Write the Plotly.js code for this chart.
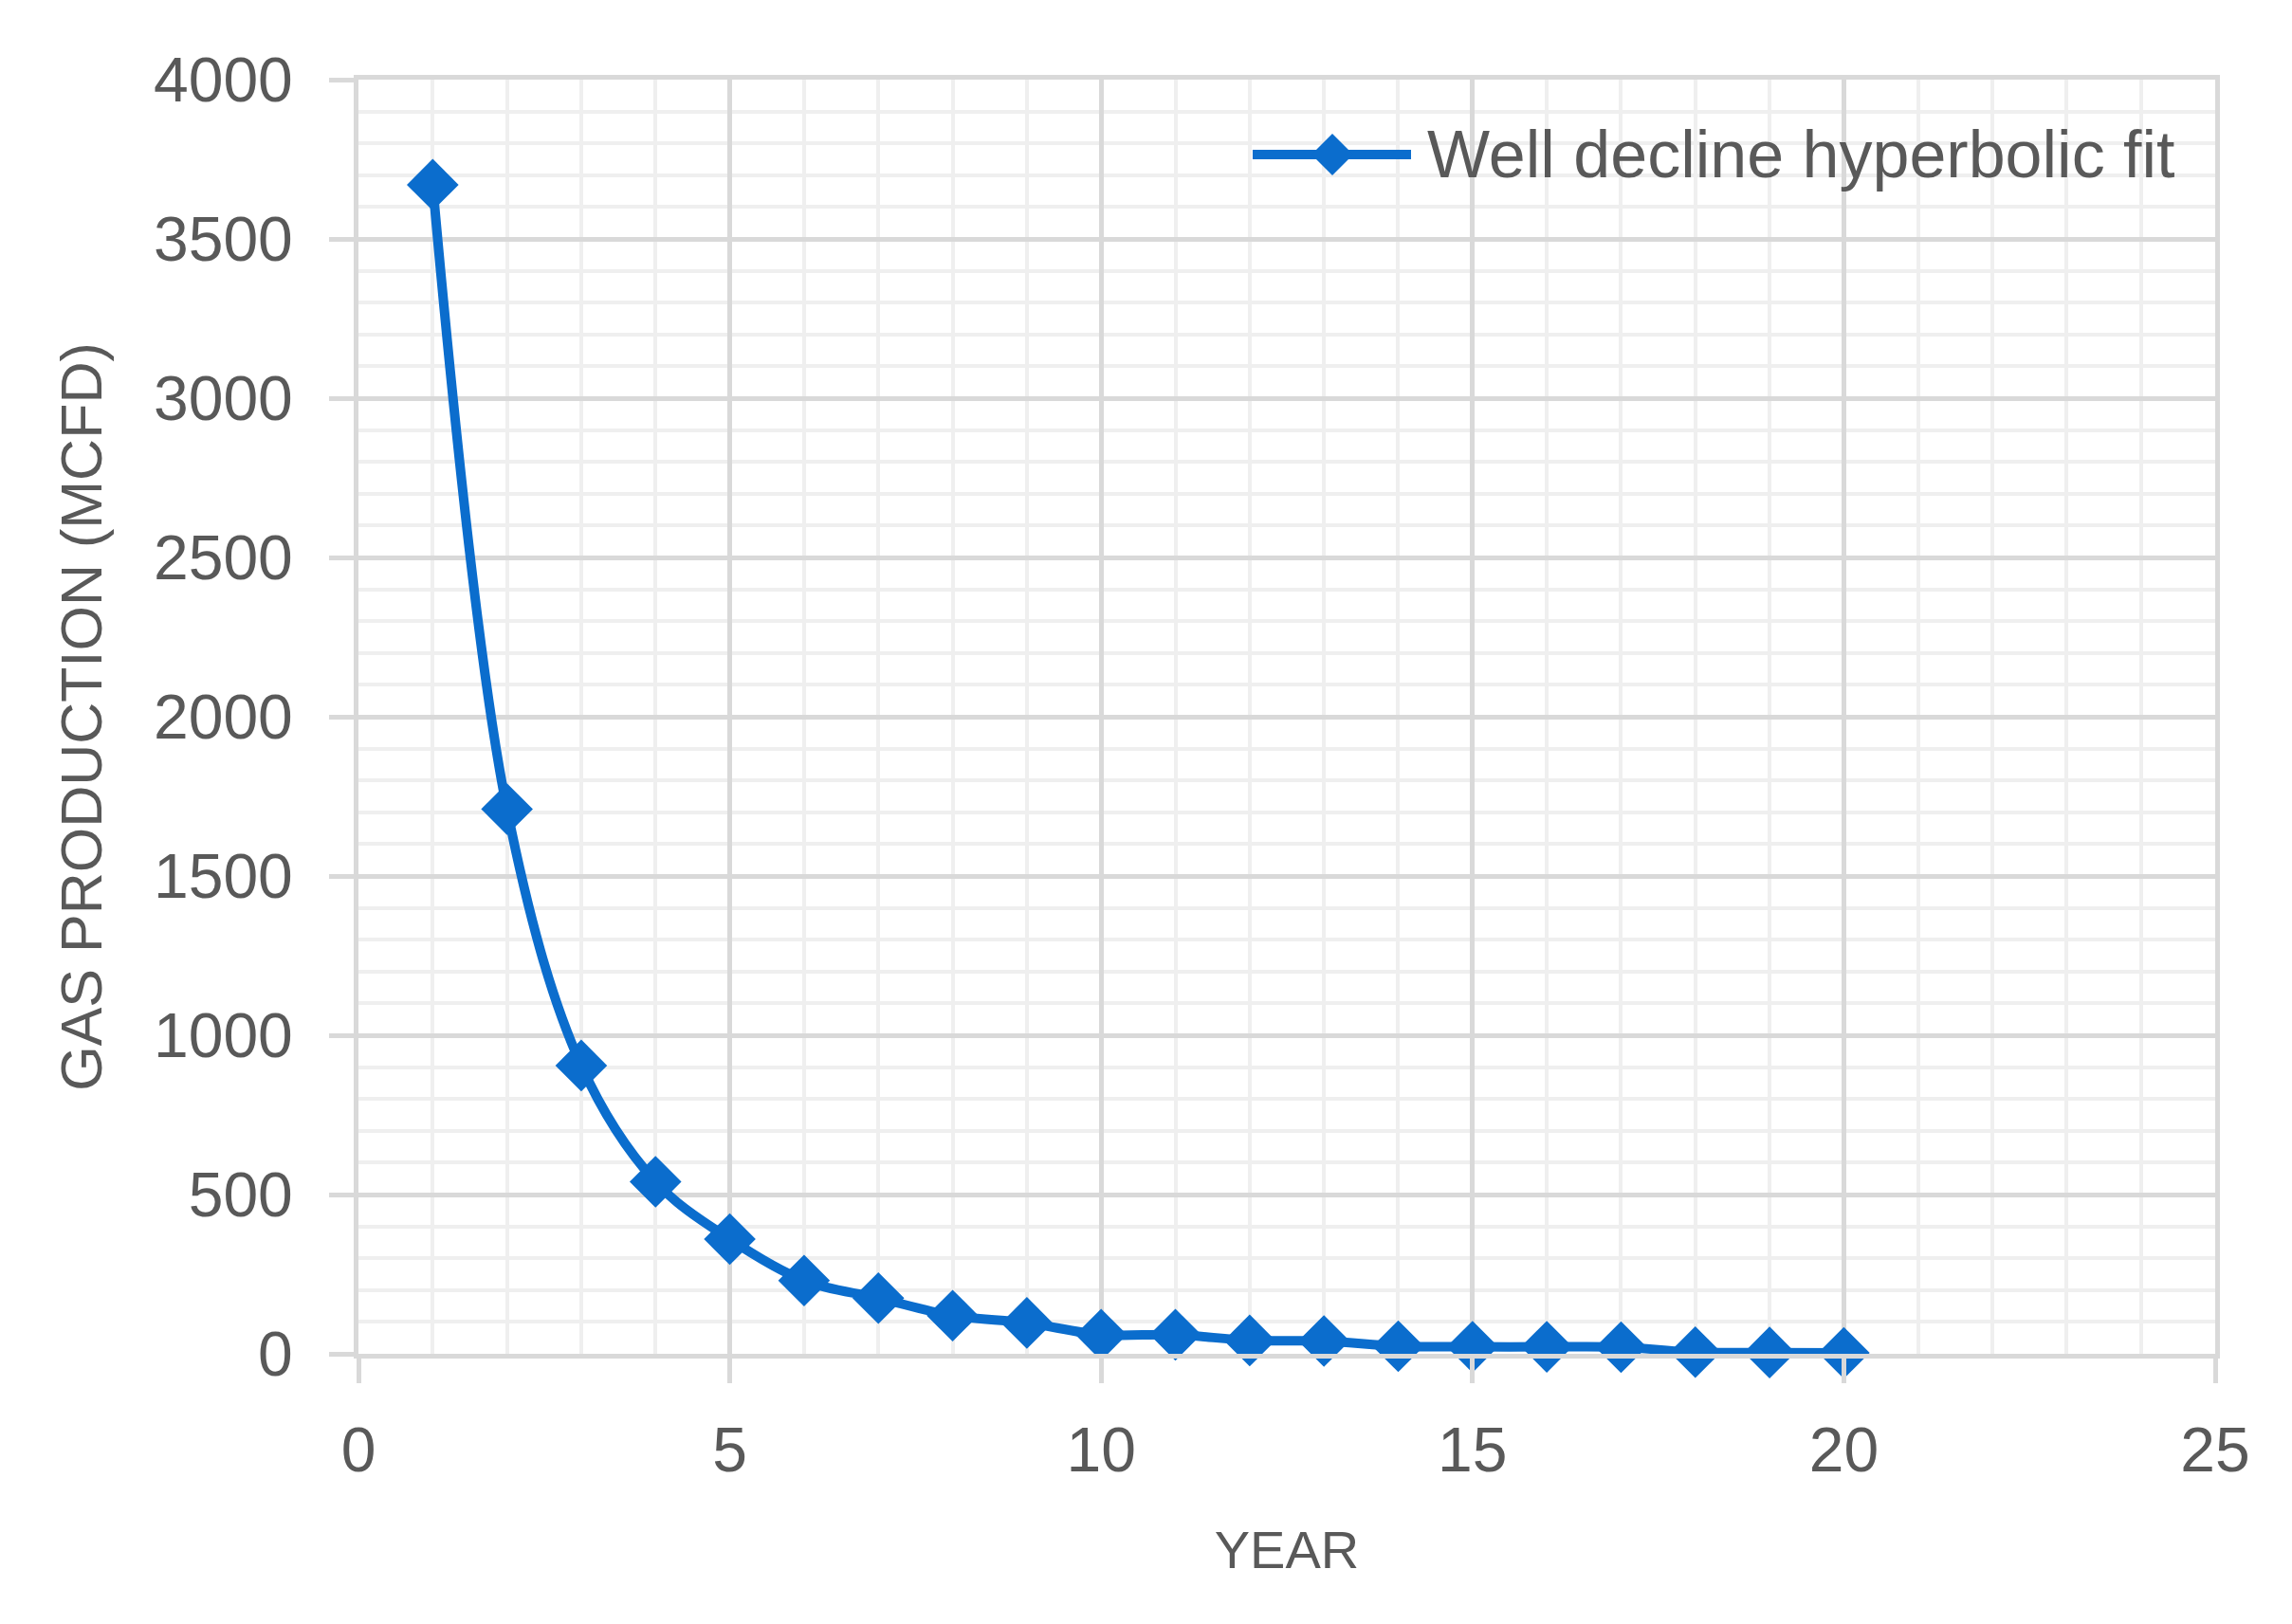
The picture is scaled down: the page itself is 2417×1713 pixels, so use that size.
<!DOCTYPE html>
<html>
<head>
<meta charset="utf-8">
<script src="https://cdn.plot.ly/plotly-3.0.1.min.js"></script>
<style>
  html, body { margin: 0; padding: 0; background: #ffffff; }
  #chart { width: 2417px; height: 1713px; }
</style>
</head>
<body>
<div id="chart"></div>
<script>
// ---- Data ----
const years = [1, 2, 3, 4, 5, 6, 7, 8, 9, 10, 11, 12, 13, 14, 15, 16, 17, 18, 19, 20];
const gasProduction = [3670, 1710, 905, 540, 360, 230, 175, 120, 97, 60, 60, 42, 40, 24, 22, 22, 21, 5, 4, 3];
const seriesName = 'Well decline hyperbolic fit';
const xAxisTitle = 'YEAR';
const yAxisTitle = 'GAS PRODUCTION (MCFD)';
const xTickValues = [0, 5, 10, 15, 20, 25];
const yTickValues = [0, 500, 1000, 1500, 2000, 2500, 3000, 3500, 4000];

// ---- Styling ----
const BLUE = '#0b6dcd';
const TEXT = '#595959';
const MAJOR = '#d9d9d9';
const MINOR = '#efefef';
const FONT = 'Liberation Sans, Arial, sans-serif';

const trace = {
  x: years,
  y: gasProduction,
  name: seriesName,
  type: 'scatter',
  mode: 'lines+markers',
  line: { color: BLUE, width: 10, shape: 'spline', smoothing: 1 },
  marker: { symbol: 'diamond', size: 42, color: BLUE, line: { width: 0 } },
  cliponaxis: false,
  showlegend: false
};

const axisCommon = {
  showline: true,
  linecolor: MAJOR,
  linewidth: 5,
  mirror: true,
  showgrid: true,
  gridcolor: MAJOR,
  gridwidth: 5,
  zeroline: false,
  ticks: 'outside',
  ticklen: 26,
  tickwidth: 5,
  tickcolor: MAJOR,
  tickfont: { family: FONT, size: 66, color: TEXT }
};

// Custom legend (line + diamond + label), placed in paper coordinates
const legLineX0 = 0.4816, legLineX1 = 0.5669, legY = 0.9412;
const legMarkerX = 0.5245, legTextX = 0.5746;

const layout = {
  width: 2417,
  height: 1713,
  paper_bgcolor: '#ffffff',
  plot_bgcolor: '#ffffff',
  margin: { l: 378, r: 81, t: 84, b: 285, pad: 0 },
  showlegend: false,
  font: { family: FONT, color: TEXT },
  xaxis: Object.assign({}, axisCommon, {
    range: [0, 25],
    tickmode: 'array',
    tickvals: xTickValues,
    ticktext: xTickValues.map(String),
    ticklabelstandoff: 14,
    minor: { dtick: 1, showgrid: true, gridcolor: MINOR, gridwidth: 4, ticks: '' },
    title: { text: xAxisTitle, font: { family: FONT, size: 56, color: TEXT }, standoff: 51 }
  }),
  yaxis: Object.assign({}, axisCommon, {
    range: [0, 4000],
    tickmode: 'array',
    tickvals: yTickValues,
    ticktext: yTickValues.map(String),
    ticklabelstandoff: 25,
    minor: { dtick: 100, showgrid: true, gridcolor: MINOR, gridwidth: 4, ticks: '' },
    title: { text: yAxisTitle, font: { family: FONT, size: 61, color: TEXT }, standoff: 36 }
  }),
  shapes: [
    {
      type: 'line', xref: 'paper', yref: 'paper',
      x0: legLineX0, x1: legLineX1, y0: legY, y1: legY,
      line: { color: BLUE, width: 10 }
    },
    {
      type: 'path', xref: 'paper', yref: 'paper',
      xsizemode: 'pixel', ysizemode: 'pixel',
      xanchor: legMarkerX, yanchor: legY,
      path: 'M-22,0 L0,22 L22,0 L0,-22 Z',
      fillcolor: BLUE, line: { width: 0 }
    }
  ],
  annotations: [
    {
      xref: 'paper', yref: 'paper', x: legTextX, y: legY,
      xanchor: 'left', yanchor: 'middle', showarrow: false,
      text: seriesName,
      font: { family: FONT, size: 70, color: TEXT }
    }
  ]
};

Plotly.newPlot('chart', [trace], layout, { staticPlot: true, displayModeBar: false });
</script>
</body>
</html>
